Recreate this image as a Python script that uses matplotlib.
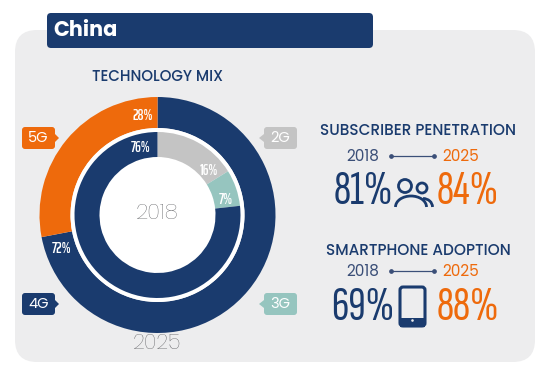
import logging
import matplotlib
matplotlib.use('Agg')
import matplotlib.pyplot as plt
from matplotlib.patches import FancyBboxPatch, Polygon, Circle, Arc, Rectangle

logging.getLogger('matplotlib.font_manager').setLevel(logging.ERROR)

# data
years = ['2018', '2025']
mix_2018_labels = ['2G', '3G', '4G']
mix_2018_values = [16, 7, 76]
mix_2025_labels = ['4G', '5G']
mix_2025_values = [72, 28]
subscriber_penetration = [81, 84]
smartphone_adoption = [69, 88]

NAVY = '#1a3b6e'
ORANGE = '#ee6a0c'
GREY = '#c4c4c4'
TEAL = '#96c5bf'
PANEL = '#ededee'
colors = {'2G': GREY, '3G': TEAL, '4G': NAVY, '5G': ORANGE}

plt.rcParams['font.family'] = ['Poppins', 'Lato', 'DejaVu Sans']
NARROW = ['Sofia Sans Extra Condensed', 'DejaVu Sans']
SMALL = ['Saira ExtraCondensed', 'Sofia Sans Extra Condensed', 'DejaVu Sans']

fig = plt.figure(figsize=(5.5, 3.78), dpi=100)
ax = fig.add_axes([0, 0, 1, 1])


def Y(py):
    # pixel row of the reference -> data y
    return 378 - py


# panel and title bar
ax.add_patch(FancyBboxPatch((35, Y(342)), 480, 292, boxstyle='round,pad=20,rounding_size=22', lw=0, fc=PANEL, zorder=0))
ax.add_patch(FancyBboxPatch((50, Y(45)), 320, 29, boxstyle='round,pad=3,rounding_size=4', lw=0, fc=NAVY, zorder=1))
ax.text(53, Y(30.5), 'China', color='white', fontsize=15, fontweight='bold', va='center', ha='left', zorder=2)
ax.text(158, Y(77), 'TECHNOLOGY MIX', color=NAVY, fontsize=10.8, fontweight='medium', va='center', ha='center')

# donuts
cx, cy = 157.5, Y(215)
ax.pie(mix_2025_values, colors=[colors[k] for k in mix_2025_labels], startangle=90, counterclock=False,
       center=(cx, cy), radius=118, wedgeprops=dict(width=31, lw=0))
ax.add_patch(Circle((cx, cy), 87, fc='white', lw=0, zorder=1.5))
ax.pie(mix_2018_values, colors=[colors[k] for k in mix_2018_labels], startangle=90, counterclock=False,
       center=(cx, cy), radius=83, normalize=True, wedgeprops=dict(width=25, lw=0, zorder=2))

pct = dict(color='white', fontsize=10.5, va='center', ha='center', family=SMALL, fontweight='semibold', zorder=4)
ax.text(143, Y(116), f'{mix_2025_values[1]}%', **pct)
ax.text(62, Y(249), f'{mix_2025_values[0]}%', **pct)
ax.text(141, Y(148), f'{mix_2018_values[2]}%', **pct)
ax.text(209, Y(171), f'{mix_2018_values[0]}%', **pct)
ax.text(226, Y(200), f'{mix_2018_values[1]}%', **pct)

ax.text(cx, Y(214), years[0], color='#58595d', fontsize=15.5, va='center', ha='center', fontweight='light', zorder=4)
ax.text(cx, Y(344), years[1], color='#58595d', fontsize=15, va='center', ha='center', fontweight='light')


# technology tags
def tag(x0, x1, yc, name, side):
    ax.add_patch(FancyBboxPatch((x0 + 2, yc - 9), x1 - x0 - 4, 18, lw=0, fc=colors[name],
                                boxstyle='round,pad=2,rounding_size=3', zorder=2))
    if side == 'right':
        ax.add_patch(Polygon([(x1, yc + 4), (x1 + 4, yc), (x1, yc - 4)], fc=colors[name], lw=0, zorder=2))
    else:
        ax.add_patch(Polygon([(x0, yc + 4), (x0 - 5, yc), (x0, yc - 4)], fc=colors[name], lw=0, zorder=2))
    ax.text((x0 + x1) / 2, yc - 0.5, name, color='white', fontsize=10.5, va='center', ha='center', zorder=3)


tag(22, 55, Y(138), '5G', 'right')
tag(22, 55, Y(304), '4G', 'right')
tag(264, 297, Y(138), '2G', 'left')
tag(264, 297, Y(304), '3G', 'left')


# right column
def stat(title, title_y, year_y, num_y, values):
    ax.text(418, Y(title_y), title, color=NAVY, fontsize=11, fontweight='medium', va='center', ha='center')
    ax.text(363, Y(year_y), years[0], color='#3b4f78', fontsize=11, va='center', ha='center')
    ax.text(461, Y(year_y), years[1], color=ORANGE, fontsize=11, va='center', ha='center')
    ax.plot([391, 434], [Y(year_y - 1.5)] * 2, color='#3b4f78', lw=0.9, marker='o', ms=2.4)
    ax.text(363, Y(num_y), f'{values[0]}%', color=NAVY, fontsize=35, va='center', ha='center', family=NARROW)
    ax.text(468, Y(num_y), f'{values[1]}%', color=ORANGE, fontsize=35, va='center', ha='center', family=NARROW)


stat('SUBSCRIBER PENETRATION', 131, 157, 192, subscriber_penetration)
stat('SMARTPHONE ADOPTION', 251, 272, 308, smartphone_adoption)

# people icon
ax.add_patch(Circle((405, Y(186)), 6.5, fc='none', ec=NAVY, lw=2))
ax.add_patch(Circle((422, Y(188)), 5, fc='none', ec=NAVY, lw=2))
ax.add_patch(Arc((411, Y(207)), 31, 22, theta1=0, theta2=180, ec=NAVY, lw=2))
ax.add_patch(Arc((423, Y(207)), 19, 17, theta1=0, theta2=90, ec=NAVY, lw=2))

# phone icon
ax.add_patch(FancyBboxPatch((401, Y(325)), 23, 37, fc='none', ec=NAVY, lw=2.2,
                            boxstyle='round,pad=1,rounding_size=3'))
ax.add_patch(Rectangle((400, Y(327)), 25, 9, fc=NAVY, lw=0))
ax.add_patch(Circle((412.5, Y(320.5)), 1.3, fc=PANEL, lw=0, zorder=3))

ax.set_xlim(0, 550)
ax.set_ylim(0, 378)
ax.set_aspect('auto')
ax.axis('off')
fig.savefig('out.png', dpi=100)
